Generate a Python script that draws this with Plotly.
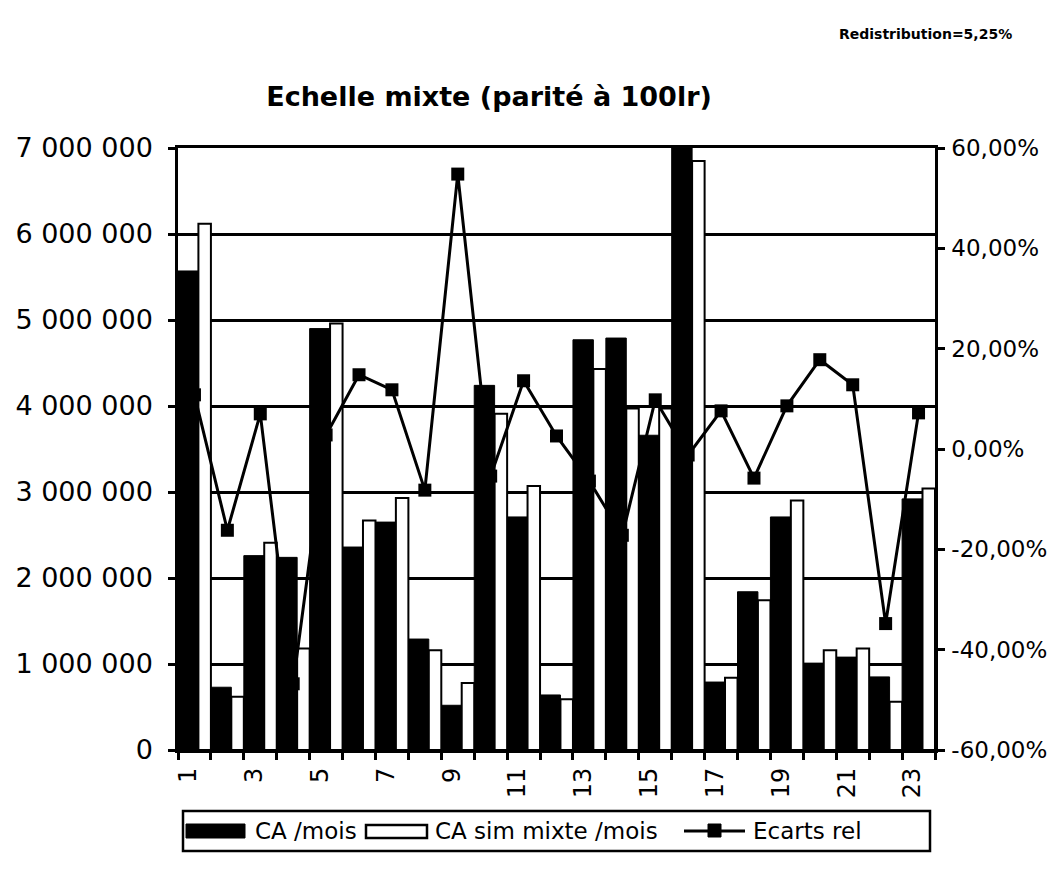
import plotly.graph_objects as go

# Monthly figures per outlet (1..23)
categories = list(range(1, 24))
ca_mois = [5570000, 730000, 2260000, 2240000, 4900000, 2360000, 2650000, 1290000,
           520000, 4240000, 2710000, 640000, 4770000, 4790000, 3660000, 7000000,
           790000, 1840000, 2710000, 1010000, 1080000, 850000, 2920000]
ca_sim_mixte = [6120000, 620000, 2410000, 1180000, 4960000, 2670000, 2930000, 1160000,
                780000, 3910000, 3070000, 590000, 4430000, 3970000, 3970000, 6850000,
                840000, 1740000, 2900000, 1160000, 1180000, 560000, 3040000]
ecarts_rel = [0.108, -0.162, 0.070, -0.468, 0.028, 0.148, 0.118, -0.082, 0.548,
              -0.054, 0.136, 0.026, -0.064, -0.172, 0.098, -0.012, 0.076, -0.058,
              0.086, 0.178, 0.128, -0.348, 0.072]
series_names = ["CA /mois", "CA sim mixte /mois", "Ecarts rel"]

x_labels = [str(c) for c in categories[::2]]
left_ticks = [0, 1000000, 2000000, 3000000, 4000000, 5000000, 6000000, 7000000]
left_text = ["0", "1 000 000", "2 000 000", "3 000 000", "4 000 000",
             "5 000 000", "6 000 000", "7 000 000"]
right_ticks = [-0.6, -0.4, -0.2, 0.0, 0.2, 0.4, 0.6]
right_text = ["-60,00%", "-40,00%", "-20,00%", "0,00%", "20,00%", "40,00%", "60,00%"]

FONT = "DejaVu Sans, Arial, sans-serif"
BLACK = "#000000"
W, H = 1056, 875
L, R, T, B = 178, 121, 148, 125


def px(xp):
    """Horizontal pixel position -> paper fraction."""
    return (xp - L) / (W - L - R)


def py(yp):
    """Vertical pixel position -> paper fraction."""
    return (H - B - yp) / (H - T - B)


fig = go.Figure()

fig.add_trace(go.Bar(
    x=categories, y=ca_mois, name=series_names[0],
    offset=-0.5, width=0.62,
    marker=dict(color=BLACK, line=dict(color=BLACK, width=1)),
))
fig.add_trace(go.Bar(
    x=categories, y=ca_sim_mixte, name=series_names[1],
    offset=0.12, width=0.38,
    marker=dict(color="#ffffff", line=dict(color=BLACK, width=2)),
))
fig.add_trace(go.Scatter(
    x=categories, y=ecarts_rel, name=series_names[2],
    xaxis="x2", yaxis="y2",
    mode="lines+markers",
    line=dict(color=BLACK, width=3),
    marker=dict(symbol="square", size=13, color=BLACK),
))

# Boxed legend below the plot, drawn with wide keys
leg_y = 831
shapes = [
    dict(type="rect", xref="paper", yref="paper",
         x0=px(183), x1=px(930), y0=py(851), y1=py(811),
         line=dict(color=BLACK, width=2.5), fillcolor="white", layer="above"),
    dict(type="rect", xref="paper", yref="paper",
         x0=px(186), x1=px(245), y0=py(838), y1=py(824),
         line=dict(color=BLACK, width=1), fillcolor=BLACK),
    dict(type="rect", xref="paper", yref="paper",
         x0=px(366), x1=px(427), y0=py(838), y1=py(825),
         line=dict(color=BLACK, width=2.5), fillcolor="white"),
    dict(type="line", xref="paper", yref="paper",
         x0=px(684), x1=px(745), y0=py(leg_y), y1=py(leg_y),
         line=dict(color=BLACK, width=3)),
    dict(type="rect", xref="paper", yref="paper",
         x0=px(708), x1=px(721), y0=py(837), y1=py(824),
         line=dict(color=BLACK, width=1), fillcolor=BLACK),
]
legend_text = [(253, series_names[0]), (433, series_names[1]), (751, series_names[2])]
annotations = [
    dict(text=t, xref="paper", yref="paper", x=px(x0), y=py(leg_y),
         xanchor="left", yanchor="middle", showarrow=False,
         font=dict(family=FONT, size=23, color=BLACK))
    for x0, t in legend_text
]
annotations.append(dict(
    text="<b>Redistribution=5,25%</b>",
    xref="paper", yref="paper", x=px(925), y=py(34),
    xanchor="center", yanchor="middle", showarrow=False,
    font=dict(family=FONT, size=14, color=BLACK),
))

fig.update_layout(
    width=W, height=H,
    margin=dict(l=L, r=R, t=T, b=B, autoexpand=False),
    paper_bgcolor="white", plot_bgcolor="white",
    barmode="overlay", showlegend=False,
    font=dict(family=FONT, size=24, color=BLACK),
    title=dict(
        text="<b>Echelle mixte (parité à 100lr)</b>",
        xref="container", x=489 / W, xanchor="center",
        yref="container", y=1 - 97 / H, yanchor="middle",
        font=dict(family=FONT, size=27, color=BLACK),
        automargin=False,
    ),
    xaxis=dict(
        range=[0.5, 23.5], automargin=False,
        tickvals=[c - 0.5 for c in categories] + [categories[-1] + 0.5],
        ticktext=[""] * (len(categories) + 1),
        ticks="outside", ticklen=7, tickwidth=2.5, tickcolor=BLACK,
        showgrid=False, zeroline=False,
        showline=True, linecolor=BLACK, linewidth=2.5, mirror=True,
    ),
    xaxis2=dict(
        overlaying="x", anchor="y2", side="bottom",
        range=[0.5, 23.5], automargin=False,
        tickvals=categories[::2], ticktext=x_labels,
        tickangle=-90, ticks="", ticklabelstandoff=12, ticklabelshift=-6,
        showgrid=False, zeroline=False, showline=False,
        tickfont=dict(family=FONT, size=24, color=BLACK),
    ),
    yaxis=dict(
        range=[0, 7000000], automargin=False,
        tickvals=left_ticks, ticktext=left_text,
        ticks="outside", ticklen=7, tickwidth=2.5, tickcolor=BLACK,
        ticklabelstandoff=10,
        showgrid=True, gridcolor=BLACK, gridwidth=2.5,
        zeroline=False, showline=True, linecolor=BLACK, linewidth=2.5,
        tickfont=dict(family=FONT, size=27, color=BLACK),
    ),
    yaxis2=dict(
        overlaying="y", side="right", anchor="x2", automargin=False,
        range=[-0.6, 0.6],
        tickvals=right_ticks, ticktext=right_text,
        ticks="outside", ticklen=7, tickwidth=2.5, tickcolor=BLACK,
        ticklabelstandoff=2,
        showgrid=False, zeroline=False,
        showline=True, linecolor=BLACK, linewidth=2.5,
        tickfont=dict(family=FONT, size=23, color=BLACK),
    ),
    shapes=shapes,
    annotations=annotations,
)

fig.write_html("out.html")
